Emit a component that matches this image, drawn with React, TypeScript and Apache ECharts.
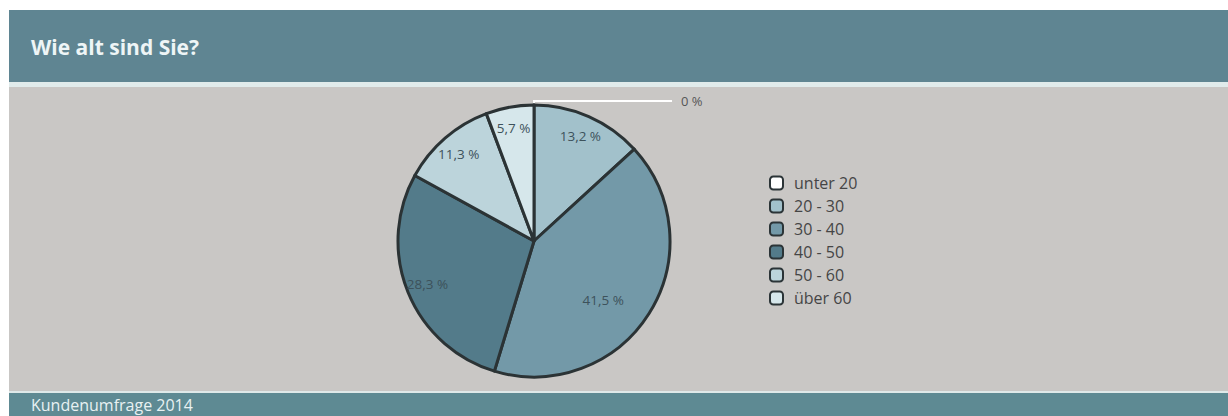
import React, { useEffect, useRef } from "react";
import * as echarts from "echarts";

const categories = ["unter 20", "20 - 30", "30 - 40", "40 - 50", "50 - 60", "über 60"];
const values = [0, 13.2, 41.5, 28.3, 11.3, 5.7];
const sliceColors = ["#ffffff", "#a2c1cb", "#7399a8", "#537b8a", "#bcd4db", "#d6e7eb"];
const titleText = "Wie alt sind Sie?";
const footerText = "Kundenumfrage 2014";

const fmt = (v: number) => v.toFixed(1).replace(".", ",") + " %";
const fmtZero = (v: number) => String(v).replace(".", ",") + " %";

export default function App() {
  const ref = useRef<HTMLDivElement>(null);
  useEffect(() => {
    if (!ref.current) return;
    const chart = echarts.init(ref.current, null, { renderer: "svg" });
    const font = "'Open Sans', 'Noto Sans', sans-serif";
    const mainData = categories.map((name, i) => ({
      name,
      value: values[i],
      itemStyle: { color: sliceColors[i] },
      label:
        values[i] === 0
          ? {
              show: true,
              position: "outside",
              formatter: (p: any) => fmtZero(p.value),
              color: "#555555",
              fontSize: 13,
              fontFamily: font,
              distanceToLabelLine: 9,
            }
          : { show: false },
      labelLine:
        values[i] === 0
          ? { show: true, length: 4, length2: 138, smooth: false, lineStyle: { color: "#ffffff", width: 2 } }
          : { show: false },
    }));
    const overlayData = categories.map((name, i) => ({
      name,
      value: values[i],
      itemStyle: { color: "rgba(0,0,0,0)", borderWidth: 0 },
      label: { show: values[i] !== 0 },
    }));
    chart.setOption({
      animation: false,
      backgroundColor: "#ffffff",
      graphic: [
        { type: "rect", shape: { x: 9, y: 10, width: 1219, height: 72 }, style: { fill: "#5f8592" }, z: 0 },
        { type: "rect", shape: { x: 9, y: 82, width: 1219, height: 5 }, style: { fill: "#e0ebeb" }, z: 0 },
        { type: "rect", shape: { x: 9, y: 87, width: 1219, height: 304 }, style: { fill: "#c9c7c5" }, z: 0 },
        { type: "rect", shape: { x: 9, y: 391, width: 1219, height: 2 }, style: { fill: "#dfe9e9" }, z: 0 },
        { type: "rect", shape: { x: 9, y: 393, width: 1219, height: 23 }, style: { fill: "#5e8a93" }, z: 0 },
        {
          type: "text",
          left: 31,
          top: 36,
          style: { text: titleText, fill: "#eef5f6", font: `bold 21px ${font}` },
          z: 1,
        },
        {
          type: "text",
          left: 31,
          top: 397,
          style: { text: footerText, fill: "#e8f1f2", font: `16px ${font}` },
          z: 1,
        },
      ],
      legend: {
        orient: "vertical",
        left: 764,
        top: 170,
        itemWidth: 13,
        itemHeight: 13,
        itemGap: 7,
        icon: "roundRect",
        data: categories,
        itemStyle: { borderColor: "#2b3437", borderWidth: 2 },
        textStyle: { color: "#454545", fontSize: 16, fontFamily: font, padding: [0, 0, 0, 6] },
      },
      series: [
        {
          type: "pie",
          name: "main",
          center: [534, 241],
          radius: 136,
          startAngle: 89.99,
          clockwise: true,
          avoidLabelOverlap: false,
          minShowLabelAngle: 0,
          stillShowZeroSum: true,
          itemStyle: { borderColor: "#2b3335", borderWidth: 3 },
          emphasis: { disabled: true },
          data: mainData,
        },
        {
          type: "pie",
          name: "labels",
          center: [534, 241],
          radius: [88, 136],
          startAngle: 89.99,
          clockwise: true,
          silent: true,
          avoidLabelOverlap: false,
          emphasis: { disabled: true },
          label: {
            position: "inside",
            formatter: (p: any) => fmt(p.value),
            color: "#3d525b",
            fontSize: 13.5,
            fontFamily: font,
          },
          labelLine: { show: false },
          labelLayout: (p: any) => (p.dataIndex === 2 ? { dx: -28, dy: -2 } : {}),
          data: overlayData,
          z: 3,
        },
      ],
    });
    return () => chart.dispose();
  }, []);
  return (
    <div
      ref={ref}
      style={{ position: "fixed", left: 0, top: 0, width: 1228, height: 416 }}
    />
  );
}
